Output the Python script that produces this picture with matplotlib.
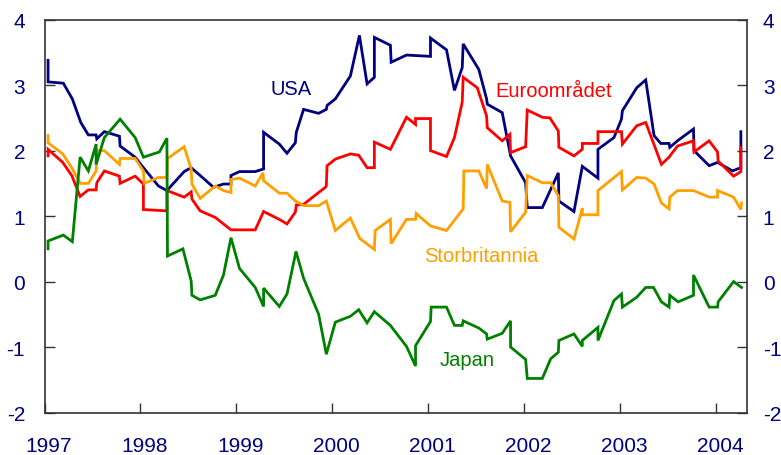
import matplotlib
matplotlib.use("Agg")
import matplotlib.pyplot as plt
import matplotlib.transforms as mtransforms

plt.rcParams['font.family'] = ['Liberation Sans', 'DejaVu Sans']

# ---- data (decimal years, percent) ----
usa_x = [1997.037, 1997.037, 1997.196, 1997.290, 1997.378, 1997.457, 1997.538, 1997.545, 1997.624, 1997.781,
         1997.788, 1997.945, 1998.031, 1998.188, 1998.276, 1998.456, 1998.529, 1998.623, 1998.762, 1998.866,
         1998.944, 1998.944, 1999.033, 1999.197, 1999.284, 1999.284, 1999.448, 1999.528, 1999.615, 1999.625,
         1999.701, 1999.858, 1999.938, 1999.946, 2000.032, 2000.189, 2000.283, 2000.363, 2000.439, 2000.439,
         2000.606, 2000.614, 2000.774, 2001.024, 2001.024, 2001.191, 2001.274, 2001.355, 2001.365, 2001.528,
         2001.609, 2001.616, 2001.772, 2001.859, 2002.016, 2002.033, 2002.190, 2002.357, 2002.363, 2002.520,
         2002.607, 2002.770, 2002.770, 2002.937, 2003.015, 2003.025, 2003.174, 2003.268, 2003.355, 2003.425,
         2003.511, 2003.519, 2003.599, 2003.766, 2003.772, 2003.929, 2004.017, 2004.173, 2004.242, 2004.260,
         2004.260]
usa_y = [3.38, 3.05, 3.03, 2.79, 2.43, 2.24, 2.24, 2.18, 2.29, 2.22,
         2.07, 1.90, 1.74, 1.46, 1.39, 1.68, 1.74, 1.62, 1.44, 1.49,
         1.49, 1.62, 1.68, 1.68, 1.72, 2.28, 2.10, 1.96, 2.12, 2.28,
         2.63, 2.57, 2.63, 2.69, 2.79, 3.14, 3.76, 3.02, 3.12, 3.73,
         3.61, 3.35, 3.46, 3.44, 3.72, 3.54, 2.92, 3.27, 3.63, 3.24,
         2.79, 2.71, 2.58, 1.92, 1.51, 1.13, 1.13, 1.66, 1.23, 1.07,
         1.76, 1.58, 2.02, 2.20, 2.48, 2.61, 2.96, 3.08, 2.23, 2.11,
         2.11, 2.05, 2.15, 2.33, 2.00, 1.77, 1.82, 1.69, 1.73, 1.73,
         2.29]

euro_x = [1997.037, 1997.037, 1997.190, 1997.284, 1997.371, 1997.457, 1997.538, 1997.545, 1997.624, 1997.781,
          1997.788, 1997.945, 1998.031, 1998.031, 1998.276, 1998.276, 1998.456, 1998.529, 1998.537, 1998.623,
          1998.780, 1998.944, 1999.197, 1999.284, 1999.448, 1999.528, 1999.615, 1999.625, 1999.701, 1999.928,
          1999.938, 1999.946, 2000.032, 2000.189, 2000.276, 2000.363, 2000.439, 2000.439, 2000.606, 2000.774,
          2000.868, 2000.868, 2001.024, 2001.024, 2001.191, 2001.274, 2001.355, 2001.365, 2001.512, 2001.609,
          2001.616, 2001.772, 2001.852, 2001.859, 2002.016, 2002.033, 2002.190, 2002.269, 2002.357, 2002.363,
          2002.520, 2002.607, 2002.607, 2002.770, 2002.770, 2003.015, 2003.025, 2003.174, 2003.268, 2003.432,
          2003.511, 2003.599, 2003.766, 2003.772, 2003.929, 2004.017, 2004.023, 2004.184, 2004.260, 2004.260]
euro_y = [1.92, 2.02, 1.82, 1.62, 1.30, 1.40, 1.40, 1.51, 1.69, 1.61,
          1.50, 1.61, 1.49, 1.10, 1.08, 1.39, 1.29, 1.37, 1.26, 1.08,
          0.98, 0.79, 0.79, 1.07, 0.95, 0.88, 1.06, 1.17, 1.18, 1.44,
          1.46, 1.77, 1.87, 1.95, 1.93, 1.74, 1.74, 2.13, 2.02, 2.51,
          2.40, 2.49, 2.49, 2.00, 1.91, 2.20, 2.74, 3.12, 2.96, 2.53,
          2.35, 2.15, 2.25, 1.97, 2.06, 2.62, 2.51, 2.50, 2.30, 2.05,
          1.92, 2.02, 2.11, 2.11, 2.29, 2.29, 2.10, 2.38, 2.43, 1.79,
          1.90, 2.07, 2.15, 1.98, 2.15, 1.98, 1.84, 1.61, 1.68, 2.05]

uk_x = [1997.037, 1997.037, 1997.190, 1997.284, 1997.371, 1997.457, 1997.538, 1997.545, 1997.624, 1997.781,
        1997.788, 1997.945, 1998.031, 1998.039, 1998.188, 1998.276, 1998.282, 1998.456, 1998.529, 1998.537,
        1998.623, 1998.780, 1998.866, 1998.944, 1998.944, 1999.033, 1999.197, 1999.278, 1999.284, 1999.448,
        1999.528, 1999.615, 1999.701, 1999.858, 1999.938, 2000.032, 2000.189, 2000.286, 2000.439, 2000.447,
        2000.606, 2000.614, 2000.774, 2000.868, 2000.875, 2001.024, 2001.191, 2001.365, 2001.372, 2001.528,
        2001.609, 2001.616, 2001.772, 2001.852, 2001.859, 2002.016, 2002.033, 2002.190, 2002.277, 2002.357,
        2002.363, 2002.520, 2002.607, 2002.607, 2002.770, 2002.770, 2003.015, 2003.025, 2003.174, 2003.268,
        2003.355, 2003.432, 2003.511, 2003.519, 2003.599, 2003.766, 2003.929, 2004.017, 2004.017, 2004.184,
        2004.260, 2004.267]
uk_y = [2.23, 2.12, 1.95, 1.74, 1.50, 1.50, 1.69, 2.00, 2.00, 1.79,
        1.88, 1.88, 1.69, 1.50, 1.59, 1.59, 1.88, 2.06, 1.72, 1.49,
        1.27, 1.46, 1.39, 1.36, 1.56, 1.58, 1.46, 1.66, 1.54, 1.35,
        1.35, 1.23, 1.16, 1.16, 1.23, 0.78, 0.97, 0.66, 0.49, 0.78,
        0.95, 0.58, 0.95, 0.95, 1.04, 0.85, 0.78, 1.11, 1.69, 1.69,
        1.42, 1.79, 1.23, 1.21, 0.76, 1.06, 1.62, 1.51, 1.51, 1.31,
        0.83, 0.65, 1.12, 1.02, 1.02, 1.39, 1.68, 1.40, 1.59, 1.58,
        1.49, 1.20, 1.11, 1.29, 1.39, 1.39, 1.29, 1.29, 1.39, 1.29,
        1.10, 1.20]

jp_x = [1997.037, 1997.037, 1997.196, 1997.290, 1997.371, 1997.457, 1997.538, 1997.538, 1997.624, 1997.788,
        1997.945, 1998.031, 1998.198, 1998.276, 1998.282, 1998.443, 1998.529, 1998.537, 1998.623, 1998.780,
        1998.866, 1998.944, 1999.033, 1999.197, 1999.284, 1999.284, 1999.448, 1999.528, 1999.622, 1999.701,
        1999.858, 1999.938, 2000.032, 2000.189, 2000.276, 2000.363, 2000.439, 2000.606, 2000.774, 2000.868,
        2000.868, 2001.024, 2001.031, 2001.191, 2001.274, 2001.355, 2001.365, 2001.528, 2001.609, 2001.616,
        2001.772, 2001.859, 2001.859, 2002.016, 2002.033, 2002.190, 2002.277, 2002.357, 2002.363, 2002.520,
        2002.607, 2002.607, 2002.770, 2002.770, 2002.937, 2003.015, 2003.025, 2003.174, 2003.268, 2003.349,
        2003.432, 2003.511, 2003.519, 2003.606, 2003.766, 2003.766, 2003.929, 2004.017, 2004.023, 2004.184,
        2004.267]
jp_y = [0.50, 0.62, 0.71, 0.61, 1.90, 1.69, 2.10, 1.79, 2.20, 2.48,
        2.20, 1.90, 1.98, 2.19, 0.39, 0.50, 0.01, -0.21, -0.28, -0.21,
        0.10, 0.67, 0.20, -0.09, -0.38, -0.10, -0.38, -0.19, 0.46, 0.05,
        -0.50, -1.11, -0.62, -0.53, -0.43, -0.63, -0.46, -0.67, -0.99, -1.29,
        -0.98, -0.61, -0.39, -0.39, -0.67, -0.67, -0.60, -0.71, -0.80, -0.88,
        -0.79, -0.60, -1.00, -1.19, -1.48, -1.48, -1.18, -1.08, -0.90, -0.80,
        -0.99, -0.90, -0.70, -0.90, -0.29, -0.19, -0.39, -0.24, -0.09, -0.09,
        -0.31, -0.39, -0.21, -0.31, -0.21, 0.10, -0.39, -0.39, -0.31, 0.00,
        -0.09]

year_ticks = [1997, 1998, 1999, 2000, 2001, 2002, 2003, 2004]
y_ticks = [-2, -1, 0, 1, 2, 3, 4]

labels = ["USA", "Euroområdet", "Storbritannia", "Japan"]
label_pos = [(1999.361, 2.86), (2001.703, 2.84), (2000.961, 0.32), (2001.121, -1.27)]

NAVY = "#000080"
colors = [NAVY, "#FF0000", "#FFA000", "#008000"]

fig = plt.figure(figsize=(7.81, 4.56), dpi=100)
ax = fig.add_axes([0.057, 0.0932, 0.9, 0.8614])

series = [(usa_x, usa_y), (euro_x, euro_y), (uk_x, uk_y), (jp_x, jp_y)]
for (xs, ys), c in zip(series, colors):
    ax.plot(xs, ys, color=c, lw=2.0, solid_joinstyle='miter')

for lab, (lx, ly), c in zip(labels, label_pos, colors):
    ax.text(lx, ly, lab, color=c, fontsize=14.5, ha='left', va='baseline')

ax.set_xlim(1997, 2004 + 4 / 12 - 0.005)
ax.set_ylim(-2, 4)
ax.set_xticks(year_ticks)
ax.set_xticklabels([str(y) for y in year_ticks])
ax.set_yticks(y_ticks)
ax.set_yticklabels([str(v) for v in y_ticks])

ax.tick_params(axis='x', direction='in', length=7, width=1, pad=17,
               labelsize=15, labelcolor=NAVY, color='#333333')
ax.tick_params(axis='y', direction='in', length=7, width=1, pad=14,
               labelsize=15, labelcolor=NAVY, color='#333333',
               right=True, labelright=True)

xoff = mtransforms.ScaledTranslation(4 / 100, 0, fig.dpi_scale_trans)
for lab in ax.get_xticklabels():
    lab.set_transform(lab.get_transform() + xoff)

roff = mtransforms.ScaledTranslation(-4 / 100, 0, fig.dpi_scale_trans)
for t in ax.yaxis.get_major_ticks():
    t.label2.set_transform(t.label2.get_transform() + roff)

for s in ax.spines.values():
    s.set_color('#333333')
    s.set_linewidth(1.2)

fig.savefig("out.png", dpi=100)
